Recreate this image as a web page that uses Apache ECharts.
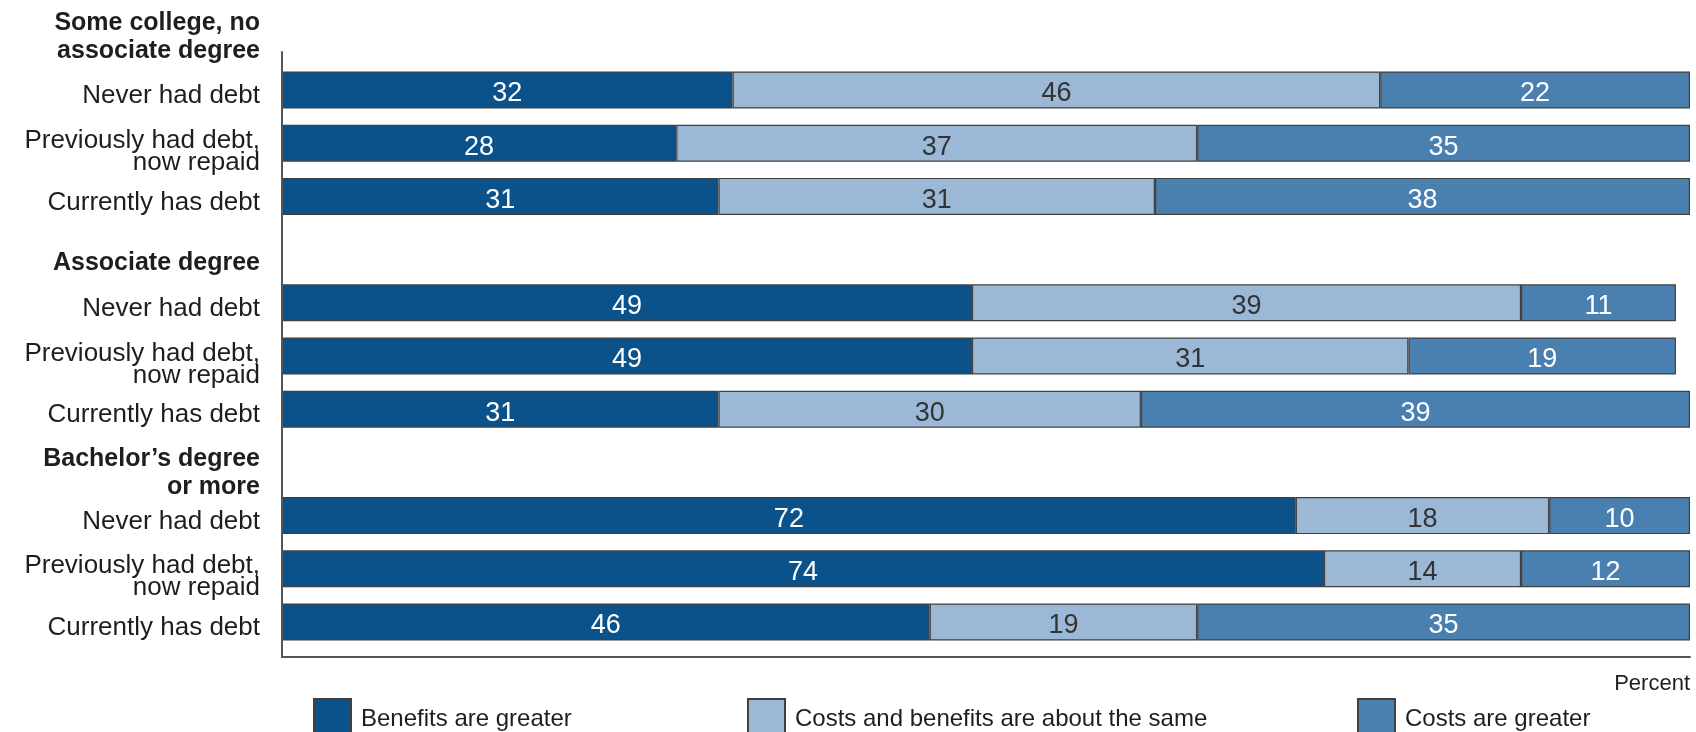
<!DOCTYPE html>
<html>
<head>
<meta charset="utf-8">
<script src="https://cdn.jsdelivr.net/npm/echarts@6/dist/echarts.min.js"></script>
<style>
  html, body { margin: 0; padding: 0; background: #fff; }
  #chart { width: 1696px; height: 732px; }
</style>
</head>
<body>
<div id="chart"></div>
<script>
// ---- Data ----
const groups = ['Some college, no\nassociate degree', 'Associate degree', 'Bachelor\u2019s degree\nor more'];
const rows = ['Never had debt', 'Previously had debt,\nnow repaid', 'Currently has debt'];
const seriesNames = ['Benefits are greater', 'Costs and benefits are about the same', 'Costs are greater'];
const benefitsGreater = [32, 28, 31, 49, 49, 31, 72, 74, 46];
const aboutSame       = [46, 37, 31, 39, 31, 30, 18, 14, 19];
const costsGreater    = [22, 35, 38, 11, 19, 39, 10, 12, 35];
const unitLabel = 'Percent';

// ---- Build category axis (group header rows + data rows) ----
const categories = [];
const isHeader = [];
groups.forEach(function (g) {
  categories.push(g); isHeader.push(true);
  rows.forEach(function (r) { categories.push(r); isHeader.push(false); });
});
function expand(vals) {
  const out = [];
  groups.forEach(function (g, gi) {
    out.push('-');
    rows.forEach(function (r, ri) { out.push(vals[gi * rows.length + ri]); });
  });
  return out;
}

const FONT = '"Liberation Sans", Arial, sans-serif';
const colors = ['#0b528a', '#9bb9d6', '#4a80b0'];
const labelColors = ['#ffffff', '#333333', '#ffffff'];
const valueSets = [benefitsGreater, aboutSame, costsGreater];

const series = seriesNames.map(function (name, i) {
  return {
    name: name,
    type: 'bar',
    stack: 'total',
    xAxisIndex: 0,
    yAxisIndex: 0,
    barWidth: 37,
    data: expand(valueSets[i]),
    itemStyle: { color: colors[i], borderColor: '#404040', borderWidth: 1.2 },
    label: {
      show: true,
      position: 'inside',
      offset: [0, 4],
      color: labelColors[i],
      fontFamily: FONT,
      fontSize: 27
    },
    emphasis: { disabled: true }
  };
});

const legendLefts = [313, 747, 1357];
const legends = seriesNames.map(function (name, i) {
  return {
    data: [name],
    left: legendLefts[i],
    top: 698,
    padding: 0,
    itemWidth: 37,
    itemHeight: 40,
    icon: 'rect',
    selectedMode: false,
    textStyle: { fontFamily: FONT, fontSize: 24, color: '#1e1e1e', padding: [0, 0, 0, 5] }
  };
});

// spacer heights (px) used to nudge label blocks downward
const headerSpacer = [0, 28, 21];
function spacer(h) { return h > 0 ? '{sp' + h + '| }\n' : ''; }
const richStyles = {
  r: { fontFamily: FONT, fontSize: 26, color: '#1e1e1e', lineHeight: 22, align: 'right' },
  h: { fontFamily: FONT, fontSize: 25, fontWeight: 'bold', color: '#1e1e1e', lineHeight: 28, align: 'right' }
};
[12, 17, 21, 28].forEach(function (h) { richStyles['sp' + h] = { fontSize: 1, lineHeight: h, align: 'right' }; });

const chart = echarts.init(document.getElementById('chart'), null, { renderer: 'canvas' });
chart.setOption({
  animation: false,
  backgroundColor: '#ffffff',
  title: {
    text: unitLabel,
    right: 6,
    top: 673,
    padding: 0,
    textStyle: { fontFamily: FONT, fontSize: 22, fontWeight: 'normal', color: '#1e1e1e' }
  },
  legend: legends,
  grid: [
    { left: 282, right: 6, top: 10.2, bottom: 83.4, containLabel: false },
    { left: 282, right: 6, top: 52, bottom: 75, containLabel: false }
  ],
  xAxis: [
    { type: 'value', gridIndex: 0, min: 0, max: 100, show: false },
    { type: 'value', gridIndex: 1, min: 0, max: 100,
      axisLine: { show: true, lineStyle: { color: '#555', width: 2 } },
      axisTick: { show: false }, axisLabel: { show: false }, splitLine: { show: false }, z: 10 }
  ],
  yAxis: [
    { type: 'category', gridIndex: 0, inverse: true, data: categories,
      axisLine: { show: false }, axisTick: { show: false },
      axisLabel: {
        margin: 22,
        interval: 0,
        formatter: function (v, idx) {
          const lines = v.split('\n');
          if (isHeader[idx]) {
            const gi = Math.floor(idx / (rows.length + 1));
            return spacer(headerSpacer[gi]) + lines.map(function (l) { return '{h|' + l + '}'; }).join('\n');
          }
          return spacer(lines.length > 1 ? 17 : 12) + lines.map(function (l) { return '{r|' + l + '}'; }).join('\n');
        },
        rich: richStyles
      },
      splitLine: { show: false } },
    { type: 'value', gridIndex: 1, min: 0, max: 1,
      axisLine: { show: true, onZero: false, lineStyle: { color: '#555', width: 2 } },
      axisTick: { show: false }, axisLabel: { show: false }, splitLine: { show: false }, z: 10 }
  ],
  series: series
});
</script>
</body>
</html>
